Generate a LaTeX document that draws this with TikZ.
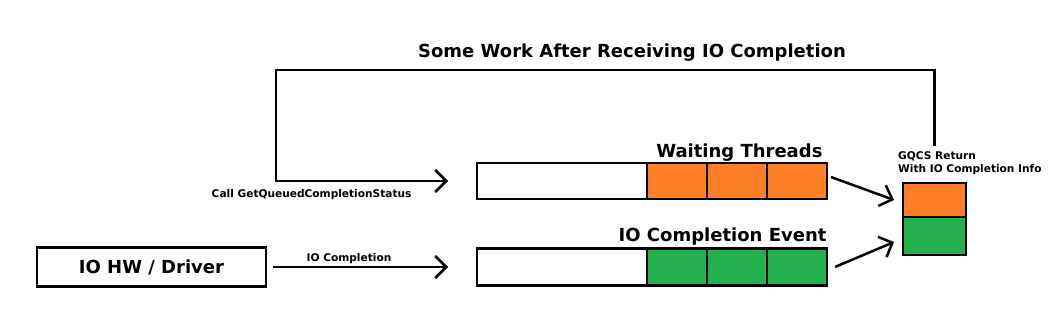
\documentclass[tikz,border=0pt]{standalone}
\usepackage{fontspec}
\setmainfont{DejaVu Sans}
\usetikzlibrary{arrows.meta, positioning}
\definecolor{thread}{HTML}{FF7F27}
\definecolor{event}{HTML}{22B14C}
\tikzset{
  cell/.style={rectangle, draw=black, fill=#1, line width=2.5pt, outer sep=0pt,
               inner sep=0pt, minimum width=60pt, minimum height=37pt},
  cell/.default=white,
  biglbl/.style={font=\bfseries\fontsize{18}{21}\selectfont},
  smalllbl/.style={font=\bfseries\fontsize{10.6}{13}\selectfont, align=left},
  arr/.style={-{Straight Barb[length=11pt, width=22pt]}, line width=2.5pt},
}
\begin{document}
\begin{tikzpicture}[x=1pt, y=-1pt]
  \useasboundingbox (0,0) rectangle (1056,314);

  % title above the feedback loop
  \node[biglbl, anchor=base] (title) at (632,57) {Some Work After Receiving IO Completion};

  % waiting threads queue
  \node[cell, minimum width=170pt, minimum height=36pt, anchor=west] (wq) at (477,181) {};
  \node[cell=thread, minimum height=36pt, right=0pt of wq] (wt1) {};
  \node[cell=thread, minimum height=36pt, right=0pt of wt1] (wt2) {};
  \node[cell=thread, minimum height=36pt, right=0pt of wt2] (wt3) {};
  \node[biglbl, anchor=base east] (wtlbl) at ([xshift=-1pt, yshift=6pt]wt3.north east) {Waiting Threads};

  % completion event queue
  \node[cell, minimum width=170pt, anchor=west] (ce) at (477,267) {};
  \node[cell=event, right=0pt of ce] (ev1) {};
  \node[cell=event, right=0pt of ev1] (ev2) {};
  \node[cell=event, right=0pt of ev2] (ev3) {};
  \node[biglbl, anchor=base east] (celbl) at ([xshift=3pt, yshift=7pt]ev3.north east) {IO Completion Event};

  % driver
  \node[cell, minimum width=229pt, minimum height=39pt, biglbl] (drv) at (151.5,267) {IO HW / Driver};

  % GQCS return
  \node[cell=thread, minimum width=63pt, minimum height=34pt] (ret1) at (934.5,200) {};
  \node[cell=event, minimum width=63pt, minimum height=38pt, below=0pt of ret1] (ret2) {};
  \node[smalllbl, anchor=base west, inner sep=0pt]
    (retlbl) at (898,172) {GQCS Return\\With IO Completion Info};

  % arrows
  \coordinate (loop) at (276,70);
  \draw[arr] (ret1.north |- retlbl.north) ++(0,5pt) |- (loop) |- ([xshift=-29pt]wq.west);
  \node[smalllbl, anchor=base east] (calllbl) at (415,197) {Call GetQueuedCompletionStatus};

  \draw[arr] ([xshift=7pt]drv.east) -- ([xshift=-29pt]ce.west);
  \node[smalllbl, anchor=base] (iolbl) at (349,261) {IO Completion};

  \draw[arr] ([xshift=4pt, yshift=4pt]wt3.east) -- ([xshift=-9pt]ret1.west);
  \draw[arr] ([xshift=8pt]ev3.east) -- ([xshift=-9pt, yshift=-6pt]ret2.west);
\end{tikzpicture}
\end{document}
